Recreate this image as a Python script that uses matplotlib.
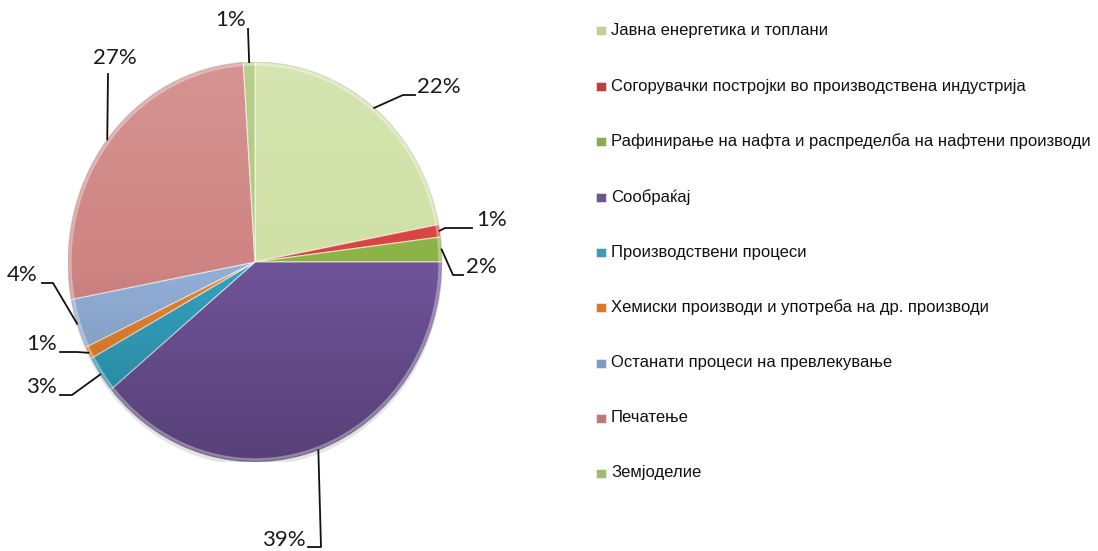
import numpy as np
import matplotlib
matplotlib.use("Agg")
import matplotlib.pyplot as plt
from matplotlib.patches import Circle, Ellipse, Rectangle

# data
categories = [
    "Јавна енергетика и топлани",
    "Согорувачки постројки во производствена индустрија",
    "Рафинирање на нафта и распределба на нафтени производи",
    "Сообраќај",
    "Производствени процеси",
    "Хемиски производи и употреба на др. производи",
    "Останати процеси на превлекување",
    "Печатење",
    "Земјоделие",
]
shares = [22, 1, 2, 39, 3, 1, 4, 27, 1]
pct_labels = ["22%", "1%", "2%", "39%", "3%", "1%", "4%", "27%", "1%"]

slice_colors = ["#D0E1A6", "#D8433F", "#8DB347", "#6F5398", "#33A2C0",
                "#E9842F", "#93B0D9", "#CF8583", "#AFC97E"]
legend_colors = ["#BFD296", "#B8403D", "#8CAB4E", "#6E5590", "#3F9AB5",
                 "#D97A2A", "#7F9BC3", "#BF7A78", "#A1BC72"]

W, H = 1098, 551
CX, CY, RX, RY = 255, 262, 187, 200   # pie centre / radii in pixels


def px2d(px, py):
    return (px - CX) / RX, (CY - py) / RY


fig = plt.figure(figsize=(W / 100, H / 100), dpi=100)
fig.patch.set_facecolor("white")

ax = fig.add_axes([(CX - RX) / W, (H - CY - RY) / H, 2 * RX / W, 2 * RY / H])
ax.set_zorder(2)

# soft shadow under the pie
ax.add_patch(Ellipse((0.0, -0.02), 2.0, 2.0, color="#000000", alpha=0.10,
                     lw=0, zorder=0))

wedges, _ = ax.pie(shares, colors=slice_colors, startangle=90, counterclock=False,
                   radius=1.0, wedgeprops=dict(edgecolor=(1, 1, 1, 0.55), linewidth=0.9))
for w in wedges:
    w.set_zorder(1)

ax.set_aspect("auto")
ax.set_xlim(-1, 1)
ax.set_ylim(-1, 1)
ax.axis("off")

# vertical shading: lighter on top, darker at the bottom
ny = 200
t = np.linspace(0, 1, ny)[:, None]
shade = np.zeros((ny, 2, 4))
shade[..., :3] = np.where(t[..., None] < 0.5, 1.0, 0.0)
shade[..., 3] = np.abs(t - 0.5) * 2 * np.where(t < 0.5, 0.12, 0.22)
im = ax.imshow(shade, extent=(-1, 1, -1, 1), origin="upper", aspect="auto", zorder=3)
clip = Circle((0, 0), 1.0, transform=ax.transData)
im.set_clip_path(clip)

# rim bevel
ax.add_patch(Circle((0, 0), 0.988, fill=False, ec=(1, 1, 1, 0.35), lw=2, zorder=4))
ax.add_patch(Circle((0, 0), 1.0, fill=False, ec=(0, 0, 0, 0.12), lw=0.8, zorder=4))

# percentage labels with leader lines (layout in pixels)
layout = [
    # (path points after rim, text pos, ha)
    ([(403, 95), (415, 95)], (417, 87), "left"),
    ([(445, 228), (472, 228)], (476, 220), "left"),
    ([(453, 275), (463, 275)], (466, 267), "left"),
    ([(321, 547), (308, 547)], (306, 540), "right"),
    ([(72, 395), (60, 395)], (57, 387), "right"),
    ([(77, 352), (60, 352)], (57, 344), "right"),
    ([(53, 283), (42, 283)], (38, 275), "right"),
    ([(108, 74)], (115, 58), "center"),
    ([(248, 29)], (231, 20), "center"),
]

cum = np.cumsum([0] + shares[:-1])
total = float(sum(shares))
for i, (pts, tpos, ha) in enumerate(layout):
    mid = cum[i] + shares[i] / 2
    ang = np.deg2rad(90 - 360 * mid / total)
    xs = [np.cos(ang)] + [px2d(*p)[0] for p in pts]
    ys = [np.sin(ang)] + [px2d(*p)[1] for p in pts]
    ax.plot(xs, ys, color="#111111", lw=1.3, clip_on=False, zorder=5)
    tx, ty = px2d(*tpos)
    ax.text(tx, ty, pct_labels[i], ha=ha, va="center", fontsize=16,
            family="Lato", color="#1a1a1a", clip_on=False, zorder=5)

# legend
lax = fig.add_axes([0, 0, 1, 1])
lax.set_zorder(1)
lax.set_xlim(0, W)
lax.set_ylim(H, 0)
lax.axis("off")
row_y = [30, 86, 141, 197, 252, 307, 363, 418, 473]
for name, col, y in zip(categories, legend_colors, row_y):
    lax.add_patch(Rectangle((596, y - 4.5), 10, 9, facecolor=col,
                            edgecolor=(1, 1, 1, 0.6), lw=0.6))
    lax.text(611, y, name, ha="left", va="center", fontsize=12,
             family="Liberation Sans", color="#111111")

fig.savefig("out.png", dpi=100, facecolor="white")
